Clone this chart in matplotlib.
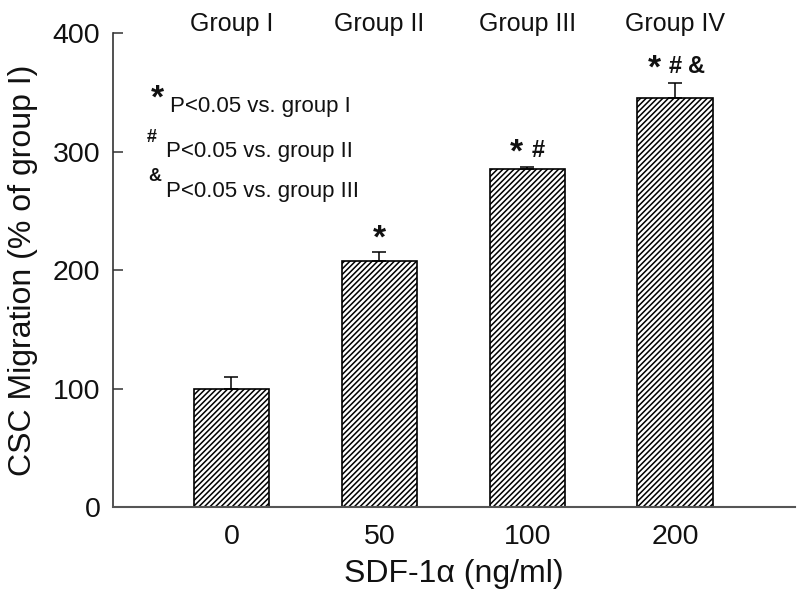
import matplotlib
matplotlib.use('Agg')
import matplotlib.pyplot as plt
import numpy as np

# ---- data ----
doses = ["0", "50", "100", "200"]
groups = ["Group I", "Group II", "Group III", "Group IV"]
migration = [100, 208, 285, 345]
sem = [10, 7, 2, 13]
marks = ["", "*", "*#", "*#&"]
yticks = [0, 100, 200, 300, 400]
legend_symbols = ["*", "#", "&"]
legend_texts = ["P<0.05 vs. group I", "P<0.05 vs. group II", "P<0.05 vs. group III"]

plt.rcParams['font.family'] = ['Liberation Sans', 'DejaVu Sans']
plt.rcParams['hatch.linewidth'] = 1.1
plt.rcParams['hatch.color'] = 'black'

W, H = 800, 596
fig = plt.figure(figsize=(8, 5.96), dpi=100)
ax = fig.add_axes([113 / W, 1 - 507.3 / H, (795 - 113) / W, (507.3 - 33) / H])

x = np.arange(len(doses))
ax.bar(x, migration, width=0.51, color='white', edgecolor='black',
       linewidth=1.2, hatch='//////', zorder=2)
ax.errorbar(x, migration, yerr=[np.zeros(len(sem)), sem], fmt='none',
            ecolor='black', elinewidth=1.1, capsize=4.7, capthick=1.1, zorder=3)

ax.set_xlim(-0.80, 3.81)
ax.set_ylim(0, 400)
ax.set_xticks(x)
ax.set_xticklabels(doses)
ax.set_yticks(yticks)

for s in ['top', 'right']:
    ax.spines[s].set_visible(False)
ax.spines['left'].set_color('#333333')
ax.spines['left'].set_linewidth(1.2)
ax.spines['bottom'].set_color('#555555')
ax.spines['bottom'].set_linewidth(1.5)

ax.tick_params(axis='y', direction='in', length=7.5, width=1.1, color='#333333',
               pad=9, labelsize=20.5, labelcolor='#111111')
ax.tick_params(axis='x', length=0, pad=12, labelsize=20.5, labelcolor='#111111')

ax.set_ylabel('CSC Migration (% of group I)', fontsize=23, color='#111111')
ax.yaxis.set_label_coords(-0.110, 0.5)
ax.set_xlabel('SDF-1α (ng/ml)', fontsize=23, color='#111111')
ax.xaxis.set_label_coords(0.5, -0.110)

# group labels above bars
for xi, g in zip(x, groups):
    ax.text(xi, 402, g, ha='center', va='baseline', fontsize=18,
            color='#111111', clip_on=False)

# significance marks above error bars
px2pt = 0.72
for xi, m, v, e in zip(x, marks, migration, sem):
    n = len(m)
    for k, sym in enumerate(m):
        dx = (k - (n - 1) / 2) * 21 * px2pt
        if sym == '*':
            fs, dy = 24, 5 * px2pt
        else:
            fs, dy = 17, 9.5 * px2pt
        ax.annotate(sym, (xi, v + e), xytext=(dx, dy), textcoords='offset points',
                    ha='center', va='baseline', fontsize=fs, fontweight='bold',
                    color='#111111', annotation_clip=False)

# legend-like notes
def fxy(px, py):
    return px / W, 1 - py / H

sym_pos = [(157, 108, 24), (152, 142, 13), (155, 181, 13)]
txt_pos = [(170, 112), (166, 157), (166, 197)]
for sym, (sx, sy, fs), t, (tx, ty) in zip(legend_symbols, sym_pos, legend_texts, txt_pos):
    fig.text(*fxy(sx, sy), sym, ha='center', va='baseline', fontsize=fs,
             fontweight='bold', color='#111111')
    fig.text(*fxy(tx, ty), t, ha='left', va='baseline', fontsize=16, color='#111111')

fig.savefig('out.png', dpi=100)
